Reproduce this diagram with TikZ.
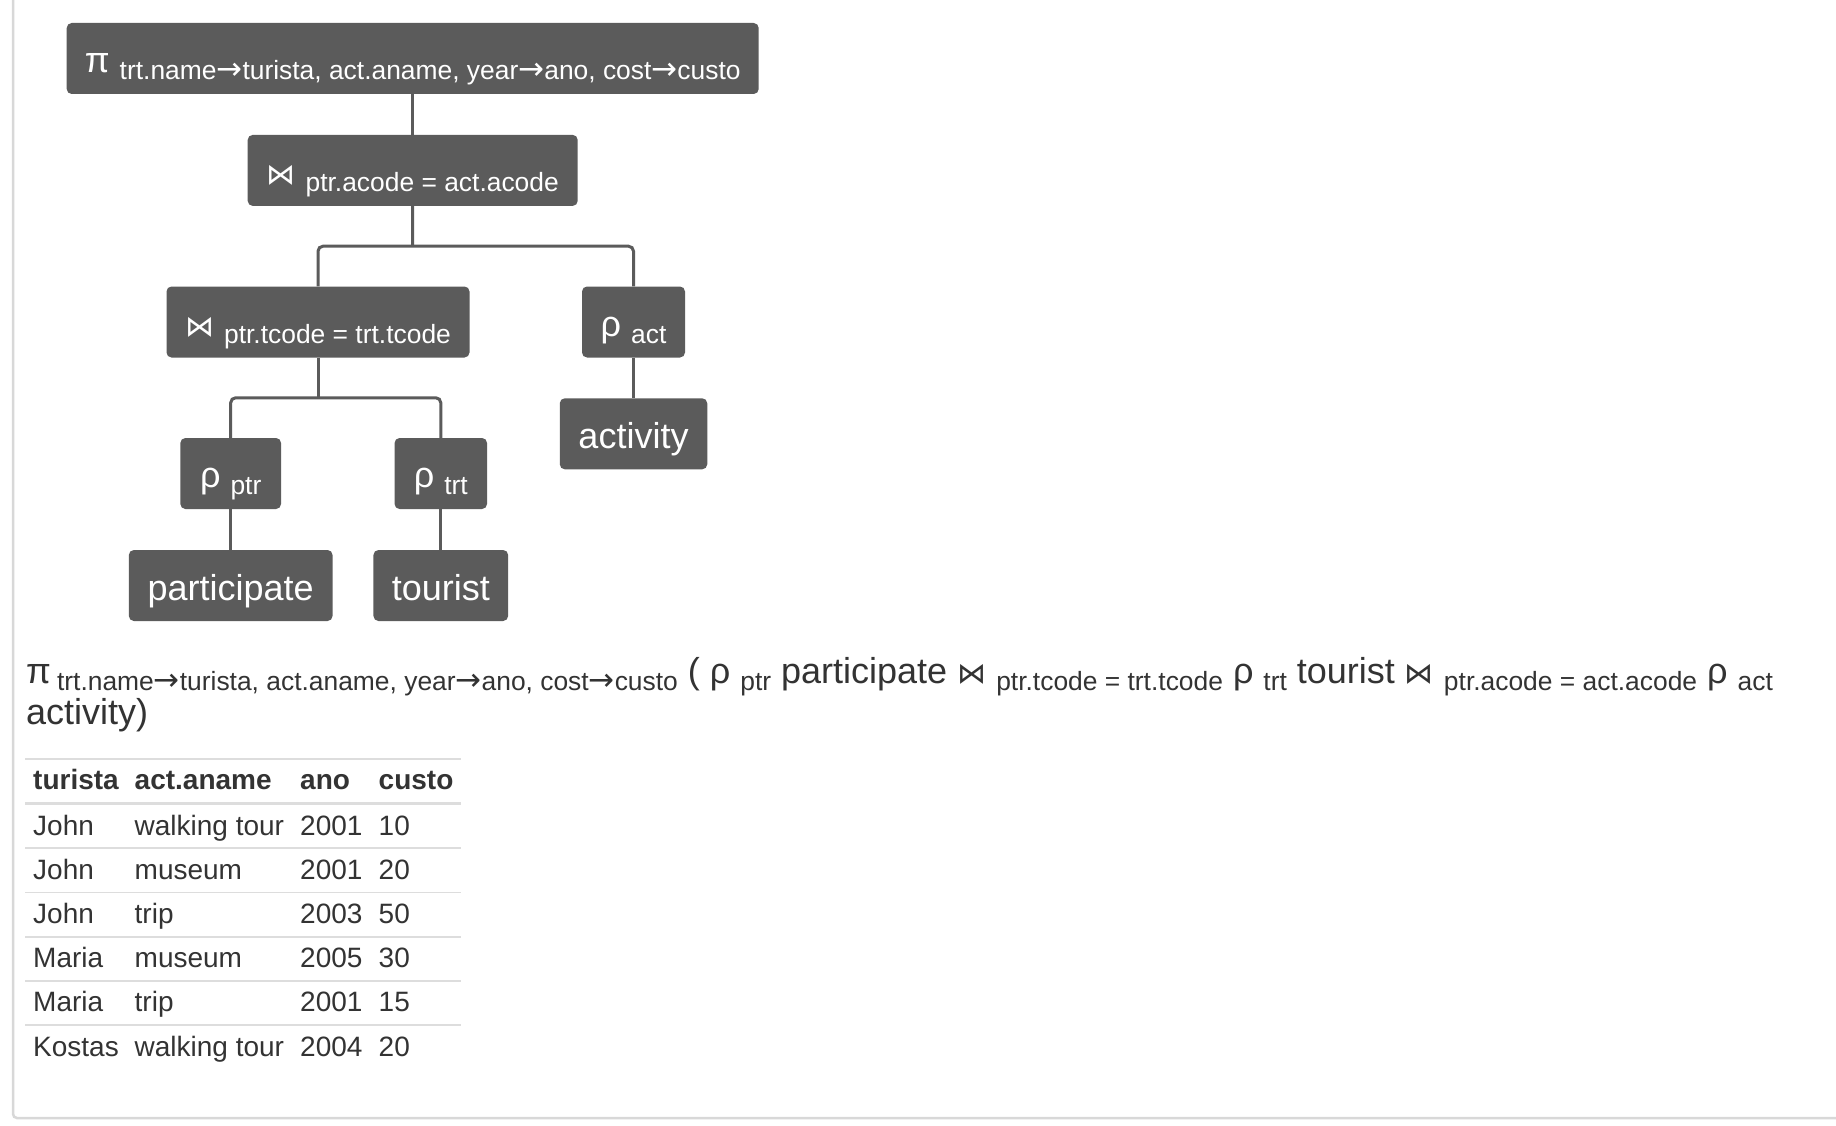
\documentclass[tikz,border=0pt]{standalone}
\usepackage{fontspec}
\setmainfont{Liberation Sans}
\newfontfamily\symfont{DejaVu Sans}
\usetikzlibrary{calc}

\definecolor{boxgray}{HTML}{5B5B5B}
\definecolor{ink}{HTML}{333333}
\definecolor{rulegray}{HTML}{DDDDDD}
\definecolor{framegray}{HTML}{D8D8D8}

% lowered, smaller operator parameters (no effect on line spacing)
\newcommand\subtxt[1]{\raisebox{-7pt}[0pt][0pt]{\fontsize{26.4}{30}\selectfont #1}}
\newcommand\joinsym{{\symfont\fontsize{29}{32}\selectfont ⋈}}
\newcommand\arr{{\symfont\fontsize{31}{32}\selectfont →}}
\newcommand\bigsz{\fontsize{36}{41}\selectfont}

\tikzset{
  opbox/.style={fill=boxgray, rounded corners=5pt, text=white, inner sep=0pt,
    minimum height=71pt, font=\bigsz, text height=32pt, text depth=4pt},
  relbox/.style={opbox, text height=33pt, text depth=4pt},
  link/.style={draw=boxgray, line width=3pt},
  cell/.style={anchor=base west, inner sep=0pt, text=ink, font=\fontsize{28}{32}\selectfont},
  headcell/.style={cell, font=\fontsize{28}{32}\selectfont\bfseries},
}

\begin{document}
\begin{tikzpicture}[x=1pt,y=-1pt]
\fill[white] (0,0) rectangle (1836,1126);
\useasboundingbox (0,0) rectangle (1836,1126);

% panel frame
\draw[framegray, line width=2.5pt, rounded corners=4pt] (13,-10) -- (13,1118) -- (1850,1118);

% operator tree
\node[opbox, minimum width=692pt] (proj) at (412.7,58.5)
  {π \subtxt{trt.name\arr turista, act.aname, year\arr ano, cost\arr custo}};
\node[opbox, minimum width=330pt] (join1) at (412.7,170.4)
  {\joinsym\ \subtxt{ptr.acode = act.acode}};
\node[opbox, minimum width=303pt] (join2) at (318,322)
  {\joinsym\ \subtxt{ptr.tcode = trt.tcode}};
\node[opbox, minimum width=103pt] (ract) at (633.5,322) {ρ \subtxt{act}};
\node[relbox, minimum width=147.5pt] (activity) at (633.5,433.8) {activity};
\node[opbox, minimum width=100.7pt] (rptr) at (230.7,473.5) {ρ \subtxt{ptr}};
\node[opbox, minimum width=92.5pt] (rtrt) at (440.8,473.5) {ρ \subtxt{trt}};
\node[relbox, minimum width=203.7pt] (participate) at (230.7,585.5) {participate};
\node[relbox, minimum width=134.7pt] (tourist) at (440.8,585.5) {tourist};

% connectors
\draw[link] (proj.south) -- (join1.north);
\coordinate (b1) at ($(join1.south)!0.5!(join1.south |- join2.north)$);
\draw[link] (join1.south) -- (b1);
\draw[link, rounded corners=5pt] (join2.north) |- (b1) -| (ract.north);
\draw[link] (ract.south) -- (activity.north);
\coordinate (b2) at ($(join2.south)!0.5!(join2.south |- rptr.north)$);
\draw[link] (join2.south) -- (b2);
\draw[link, rounded corners=5pt] (rptr.north) |- (b2) -| (rtrt.north);
\draw[link] (rptr.south) -- (participate.north);
\draw[link] (rtrt.south) -- (tourist.north);

% linear form of the expression (base anchor = baseline of its last line)
\node[anchor=base west, inner sep=0pt, text=ink, font=\bigsz, align=left] (expr) at (26,724)
  {π\hspace{6pt}\subtxt{trt.name\arr turista, act.aname, year\arr ano, cost\arr custo} ( ρ \subtxt{ptr} participate
   \joinsym\ \subtxt{ptr.tcode = trt.tcode} ρ \subtxt{trt} tourist
   \joinsym\ \subtxt{ptr.acode = act.acode} ρ \subtxt{act}\\ activity)};

% result table
\draw[rulegray, line width=1.5pt] (25,759) -- (461,759);
\draw[rulegray, line width=3pt] (25,803.5) -- (461,803.5);
\foreach \y in {848,892.5,937,981,1025}
  \draw[rulegray, line width=1.5pt] (25,\y) -- (461,\y);

\node[headcell] (h1) at (33,789) {turista};
\node[headcell] (h2) at (134.5,789) {act.aname};
\node[headcell] (h3) at (300,789) {ano};
\node[headcell] (h4) at (378.5,789) {custo};

\foreach \n/\a/\b/\c/\d in {0/John/walking tour/2001/10, 1/John/museum/2001/20,
    2/John/trip/2003/50, 3/Maria/museum/2005/30, 4/Maria/trip/2001/15,
    5/Kostas/walking tour/2004/20} {
  \pgfmathsetmacro\yy{835+44.2*\n}
  \node[cell] (r\n-1) at (33,\yy) {\a};
  \node[cell] (r\n-2) at (134.5,\yy) {\b};
  \node[cell] (r\n-3) at (300,\yy) {\c};
  \node[cell] (r\n-4) at (378.5,\yy) {\d};
}
\end{tikzpicture}
\end{document}
